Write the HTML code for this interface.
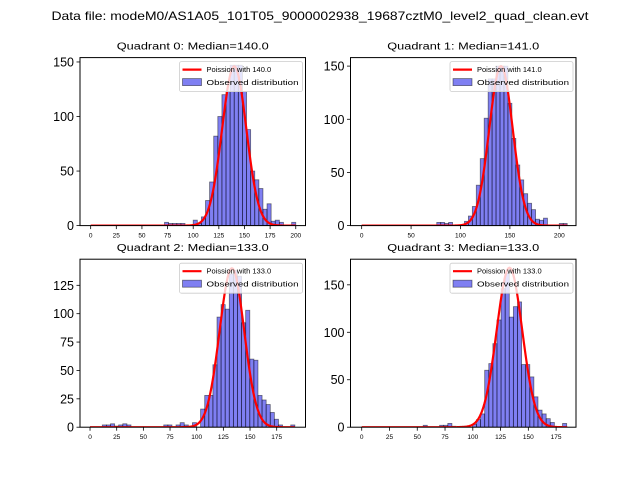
<!DOCTYPE html>
<html><head><meta charset="utf-8"><style>
html,body{margin:0;padding:0;background:#fff}
svg{display:block;font-family:"Liberation Sans","DejaVu Sans",sans-serif}
</style></head><body>
<svg id="fig" width="640" height="480" viewBox="0 0 640 480">
<rect width="640" height="480" fill="#fff"/>
<text x="320" y="20" text-anchor="middle" font-size="12" textLength="537" lengthAdjust="spacingAndGlyphs">Data file: modeM0/AS1A05_101T05_9000002938_19687cztM0_level2_quad_clean.evt</text>
</svg>
<script>
// ---- data ----
const q0Counts = {72:3,76:2,80:2,84:2,88:2,100:5,104:2,108:8,112:23,116:40,120:82,124:100,128:120,132:123,136:147,140:147,144:147,148:123,152:88,156:50,160:42,164:34,168:15,172:20,176:4,180:5,184:3,196:3};
const q1Counts = {76:3,80:3,84:2,88:3,104:4,108:9,112:18,116:38,120:63,124:101,128:138,132:138,136:150,140:150,144:150,148:115,152:82,156:57,160:43,164:30,168:21,172:15,176:6,180:5,184:7,200:2,204:2};
const q2Bins = [3,4,5,6,7,8,9,18,19,21,22,23,25,27,28,29,30,31,32,33,34,35,36,37,38,39,40,41,42,43,44,45,46,49];
const q2Vals = [2,2,3,1,2,3,2,2,2,2,4,2,4,16,28,28,55,97,108,104,135,138,133,92,103,60,59,28,24,20,13,7,2,2];
const q3Bins = [15,19,20,21,22,24,25,27,28,29,30,31,32,33,34,35,36,37,38,39,40,41,42,43,44,45,46,49];
const q3Vals = [2,2,2,4,1,1,1,3,8,14,60,67,88,113,146,162,116,127,132,66,66,53,32,18,14,9,5,4];
const medians = [140,141,133,133];
const poisAmp = [146,150,140,168];
const curveMax = [200,208,192,185];
const xTicks0 = [0,25,50,75,100,125,150,175,200];
const xTicks1 = [0,50,100,150,200];
const xTicks2 = [0,25,50,75,100,125,150,175];
const xTicks3 = [0,25,50,75,100,125,150,175];
const yTicks0 = [0,50,100,150];
const yTicks1 = [0,50,100,150];
const yTicks2 = [0,25,50,75,100,125];
const yTicks3 = [0,50,100,150];
// ---- layout ----
const NS="http://www.w3.org/2000/svg";
const svg=document.getElementById('fig');
function mk(tag,attrs,parent){const e=document.createElementNS(NS,tag);for(const k in attrs)e.setAttribute(k,attrs[k]);(parent||svg).appendChild(e);return e;}
function toBins(obj,w){const b=[];for(const k in obj)b.push([+k,obj[k]]);return b.map(p=>({l:p[0],w:w,v:p[1]}));}
function toBins2(idx,vals,start,w){return idx.map((k,i)=>({l:start+k*w,w:w,v:vals[i]}));}
const panels=[
 {x:80,y:57.6,xl:[-10.4,209.5],yl:[0,154],bins:toBins(q0Counts,4),xt:xTicks0,yt:yTicks0},
 {x:350.5,y:57.6,xl:[-11.3,216.9],yl:[0,158],bins:toBins(q1Counts,4),xt:xTicks1,yt:yTicks1},
 {x:80,y:259.2,xl:[-9.4,202],yl:[0,148],bins:toBins2(q2Bins,q2Vals,0,3.84),xt:xTicks2,yt:yTicks2},
 {x:350.5,y:259.2,xl:[-10.1,192.9],yl:[0,177],bins:toBins2(q3Bins,q3Vals,0,3.69),xt:xTicks3,yt:yTicks3}
];
const W=225.5,H=168;
panels.forEach((p,i)=>{
  const g=mk('g',{});
  
  
  const sx=v=>p.x+(v-p.xl[0])/(p.xl[1]-p.xl[0])*W;
  const sy=v=>p.y+H-(v-p.yl[0])/(p.yl[1]-p.yl[0])*H;
  const t=mk('text',{x:p.x+W/2,y:p.y-8,'text-anchor':'middle','font-size':'10',textLength:'152',lengthAdjust:'spacingAndGlyphs'},g);
  t.textContent='Quadrant '+i+': Median='+medians[i].toFixed(1);
  
  
  const cp='clip'+i;
  const cpe=mk('clipPath',{id:cp},g);mk('rect',{x:p.x,y:p.y,width:W,height:H},cpe);
  const bg=mk('g',{'clip-path':'url(#'+cp+')'},g);
  p.bins.forEach(b=>{
    const r=mk('rect',{x:sx(b.l),y:sy(b.v),width:sx(b.l+b.w)-sx(b.l),height:sy(0)-sy(b.v),fill:'rgba(0,0,230,0.5)',stroke:'rgba(0,0,0,0.5)','stroke-width':'0.8'},bg);
    
    
  });
  const lam=medians[i],sd=Math.sqrt(lam);let d='';
  for(let x=0;x<=curveMax[i];x+=0.5){const y=poisAmp[i]*Math.exp(-(x-lam)*(x-lam)/(2*sd*sd));d+=(x?'L':'M')+sx(x).toFixed(2)+' '+sy(y).toFixed(2);}
  const pl=mk('path',{d:d,fill:'none',stroke:'#ff0000','stroke-width':'2.2','stroke-linejoin':'round'},bg);
  
  
  const fr=mk('rect',{x:p.x,y:p.y,width:W,height:H,fill:'none',stroke:'#000','stroke-width':'1'},g);
  
  
  p.xt.forEach(v=>{
    mk('line',{x1:sx(v),x2:sx(v),y1:p.y+H,y2:p.y+H+3.5,stroke:'#000','stroke-width':'0.8'},g);
    const l=mk('text',{x:sx(v),y:p.y+H+12,'text-anchor':'middle','font-size':'6.5'},g);
    l.textContent=v;
    
    
  });
  p.yt.forEach(v=>{
    mk('line',{x1:p.x-3.5,x2:p.x,y1:sy(v),y2:sy(v),stroke:'#000','stroke-width':'0.8'},g);
    const l=mk('text',{x:p.x-6,y:sy(v)+4.5,'text-anchor':'end','font-size':'12.5'},g);
    l.textContent=v;
    
    
  });
  const lg=mk('g',{},g);
  
  
  const lx=p.x+W-126,ly=p.y+4;
  mk('rect',{x:lx,y:ly,width:123,height:30,fill:'rgba(255,255,255,0.8)',stroke:'#ccc','stroke-width':'0.8',rx:'2'},lg);
  mk('line',{x1:lx+3,x2:lx+22,y1:ly+8,y2:ly+8,stroke:'#ff0000','stroke-width':'2.2'},lg);
  const t1=mk('text',{x:lx+27,y:ly+10.5,'font-size':'7.5'},lg);t1.textContent='Poission with '+medians[i].toFixed(1);
  
  
  mk('rect',{x:lx+3,y:ly+17,width:19,height:7,fill:'rgba(0,0,230,0.5)',stroke:'rgba(0,0,0,0.5)','stroke-width':'0.8'},lg);
  const t2=mk('text',{x:lx+27,y:ly+23.5,'font-size':'7.5',textLength:'92',lengthAdjust:'spacingAndGlyphs'},lg);t2.textContent='Observed distribution';
  
  
});
</script>
</body></html>
